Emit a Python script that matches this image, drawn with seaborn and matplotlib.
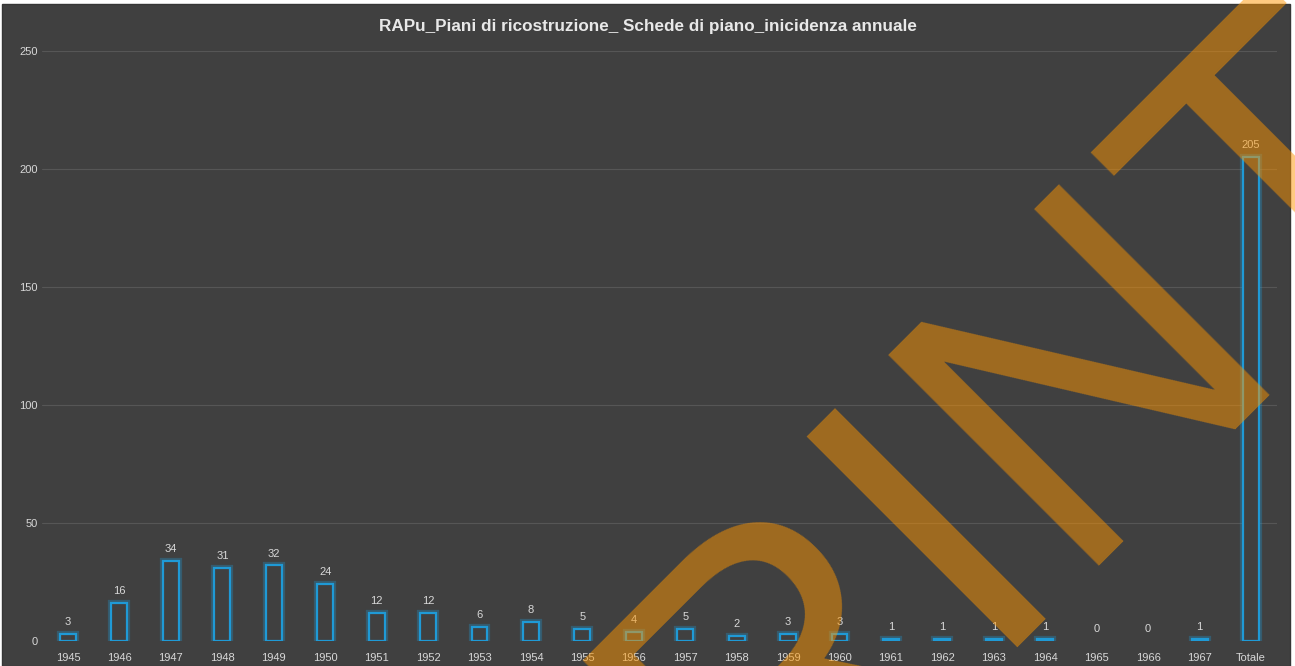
import matplotlib
matplotlib.use('Agg')
import matplotlib.pyplot as plt
import matplotlib.patheffects as pe
from matplotlib.patches import Rectangle
import seaborn as sns
import pandas as pd

categories = ['1945', '1946', '1947', '1948', '1949', '1950', '1951', '1952',
              '1953', '1954', '1955', '1956', '1957', '1958', '1959', '1960',
              '1961', '1962', '1963', '1964', '1965', '1966', '1967', 'Totale']
values = [3, 16, 34, 31, 32, 24, 12, 12, 6, 8, 5, 4, 5, 2, 3, 3,
          1, 1, 1, 1, 0, 0, 1, 205]
y_ticks = [0, 50, 100, 150, 200, 250]
title = "RAPu_Piani di ricostruzione_ Schede di piano_inicidenza annuale"
watermark = "PRINT"

BG = '#404040'
BLUE = '#1f9ad6'
TXT = '#d8d8d8'

sns.set_theme(style='dark')
plt.rcParams['font.family'] = ['Liberation Sans', 'DejaVu Sans']

W, H = 1295, 666
fig = plt.figure(figsize=(W / 100, H / 100), dpi=100, facecolor='white')
fig.patches.append(Rectangle((2 / W, 0), (1290 - 2) / W, 662 / H,
                             transform=fig.transFigure, facecolor=BG,
                             edgecolor='#363636', lw=1, zorder=-5))

ax = fig.add_axes([42.3 / W, 25 / H, (1276.7 - 42.3) / W, 590 / H])
ax.set_facecolor('none')
ax.set_zorder(1)

df = pd.DataFrame({'cat': categories, 'val': values})
sns.barplot(data=df, x='cat', y='val', ax=ax, color=BG, saturation=1,
            edgecolor=BLUE, linewidth=1.6, width=0.31, zorder=3)

for p in ax.patches:
    if p.get_height() == 0:
        p.set_linewidth(0)
    else:
        p.set_path_effects([pe.Stroke(linewidth=4.5, foreground=BLUE, alpha=0.3),
                            pe.Normal()])

ax.bar_label(ax.containers[0], labels=[str(v) for v in values], padding=5,
             color=TXT, fontsize=8)

ax.set_xlim(-0.5, len(categories) - 0.5)
ax.set_ylim(0, 250)
ax.set_yticks(y_ticks)
ax.set_xlabel('')
ax.set_ylabel('')
for s in ax.spines.values():
    s.set_visible(False)
ax.grid(axis='y', color='#565656', linewidth=0.8)
ax.grid(axis='x', visible=False)
ax.yaxis.get_gridlines()[0].set_visible(False)
ax.tick_params(axis='x', length=0, pad=8.5, labelsize=8, colors=TXT)
ax.tick_params(axis='y', length=0, pad=3.5, labelsize=8, colors=TXT)

fig.text(0.5, 1 - 26 / H, title, ha='center', va='center', color='#e8e8e8',
         fontsize=12.3, fontweight='bold')

fig.text(556 / W, (H - 1074) / H, watermark, rotation=45, rotation_mode='anchor',
         ha='left', va='baseline', fontsize=311, color='#ff9600', alpha=0.5,
         family='Liberation Sans', zorder=10)

fig.savefig('out.png', dpi=100, facecolor=fig.get_facecolor())
